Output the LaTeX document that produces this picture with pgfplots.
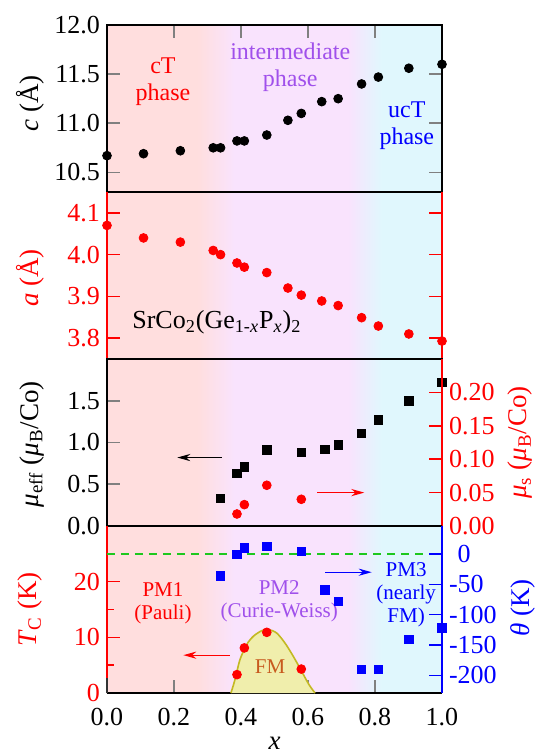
\documentclass[border=0pt]{standalone}
\usepackage{fontspec}
\setmainfont{Liberation Serif}
\usepackage{pgfplots}
\pgfplotsset{compat=1.18}
\usetikzlibrary{arrows.meta}

\definecolor{bgA}{RGB}{255,222,222}
\definecolor{bgB}{RGB}{249,227,253}
\definecolor{bgC}{RGB}{224,247,253}
\definecolor{violetT}{RGB}{160,80,235}
\definecolor{fmText}{RGB}{200,90,30}
\definecolor{domeFill}{RGB}{240,238,172}
\definecolor{domeLine}{RGB}{195,185,35}
\definecolor{dashG}{RGB}{30,200,30}

\pgfdeclarehorizontalshading{phase}{100bp}{color(0bp)=(bgA); color(38.5bp)=(bgA); color(44bp)=(bgB); color(61bp)=(bgB); color(66bp)=(bgC); color(100bp)=(bgC)}

\tikzset{
  ann/.style={font=\fontsize{12}{13.5}\selectfont, align=center},
  annS/.style={font=\fontsize{10.5}{11.5}\selectfont, align=center},
  arr/.style={-{Stealth[length=6.5pt,width=3.6pt]}, line width=0.6pt},
}

\pgfplotsset{
  panel/.style={
    width=167.5pt, height=83.5pt, scale only axis,
    xmin=0, xmax=1, clip=false, anchor=north west,
    axis background/.style={shade, shading=phase},
    axis line style={line width=0.9pt},
    tick style={line width=0.8pt},
    major tick length=6.3pt, minor tick length=3.5pt,
    tick align=inside,
    tick label style={font=\fontsize{13}{15}\selectfont},
    label style={font=\fontsize{13.5}{15}\selectfont},
  },
  twin/.style={
    width=167.5pt, height=83.5pt, scale only axis,
    xmin=0, xmax=1, clip=false, anchor=north west,
    axis x line=none, axis y line*=right,
    axis line style={line width=0.9pt},
    tick style={line width=0.8pt},
    major tick length=6.3pt, minor tick length=3.5pt,
    tick align=inside,
    tick label style={font=\fontsize{13}{15}\selectfont},
    label style={font=\fontsize{13.5}{15}\selectfont},
  },
}

\begin{document}
\begin{tikzpicture}
\useasboundingbox (0,0) rectangle (268.5pt,-378pt);

% ---------- Panel 1: c ----------
\begin{axis}[panel, at={(53.5pt,-12.5pt)},
  ymin=10.3, ymax=12.0,
  ytick={10.5,11.0,11.5,12.0}, yticklabels={10.5,11.0,11.5,12.0},
  xtick={0.2,0.4,0.6,0.8}, xticklabels={}, xtick pos=right,
  ylabel={\textit{c} (Å)},
  ylabel style={at={(axis description cs:-0.23,0.53)}, anchor=center},
]
\addplot[only marks, mark=*, mark size=2.2pt, black] coordinates {
(0,10.67) (0.109,10.69) (0.219,10.72) (0.317,10.75) (0.339,10.75)
(0.388,10.82) (0.41,10.82) (0.477,10.88) (0.54,11.03) (0.58,11.10)
(0.641,11.22) (0.69,11.25) (0.76,11.40) (0.81,11.47) (0.901,11.56) (1.0,11.60)};
\node[ann, text=red] at (axis cs:0.167,11.425) {cT\\phase};
\node[ann, text=violetT] at (axis cs:0.547,11.57) {intermediate\\phase};
\node[ann, text=blue] at (axis cs:0.895,10.97) {ucT\\phase};
\end{axis}

% ---------- Panel 2: a ----------
\begin{axis}[panel, at={(53.5pt,-96pt)},
  ymin=3.75, ymax=4.15,
  ytick={3.8,3.9,4.0,4.1}, yticklabels={3.8,3.9,4.0,4.1},
  xtick=\empty,
  separate axis lines,
  y axis line style={red},
  y tick style={red},
  yticklabel style={red},
  ylabel={\textit{a} (Å)},
  ylabel style={red, at={(axis description cs:-0.23,0.485)}, anchor=center},
]
\addplot[only marks, mark=*, mark size=2.2pt, red] coordinates {
(0,4.07) (0.109,4.04) (0.219,4.03) (0.317,4.01) (0.339,4.00)
(0.388,3.98) (0.41,3.97) (0.477,3.957) (0.54,3.92) (0.58,3.903)
(0.641,3.889) (0.69,3.878) (0.76,3.849) (0.81,3.829) (0.901,3.81) (1.0,3.793)};
\node[font=\fontsize{13}{15}\selectfont] at (axis cs:0.328,3.838)
  {SrCo\textsubscript{2}(Ge\textsubscript{1-\textit{x}}P\textsubscript{\textit{x}})\textsubscript{2}};
\end{axis}

% ---------- Panel 3: mu_eff (left) ----------
\begin{axis}[panel, at={(53.5pt,-179.5pt)},
  ymin=0, ymax=2.0,
  ytick={0,0.5,1.0,1.5}, yticklabels={0.0,0.5,1.0,1.5},
  ytick pos=left,
  xtick=\empty,
  ylabel={\textit{μ}\textsubscript{eff} (\textit{μ}\textsubscript{B}/Co)},
  ylabel style={at={(axis description cs:-0.225,0.49)}, anchor=center},
]
\addplot[only marks, mark=square*, mark size=2.1pt, black] coordinates {
(0.339,0.33) (0.388,0.63) (0.41,0.71) (0.477,0.91) (0.58,0.88)
(0.65,0.92) (0.69,0.97) (0.76,1.11) (0.81,1.27) (0.901,1.50) (1.0,1.72)};
\draw[arr, black] (axis cs:0.343,0.82) -- (axis cs:0.21,0.82);
\draw[arr, red] (axis cs:0.628,0.40) -- (axis cs:0.768,0.40);
\end{axis}

% ---------- Panel 3: mu_s (right) ----------
\begin{axis}[twin, at={(53.5pt,-179.5pt)},
  ymin=0, ymax=0.25,
  ytick={0,0.05,0.10,0.15,0.20}, yticklabels={0.00,0.05,0.10,0.15,0.20},
  y axis line style={red},
  y tick style={red},
  yticklabel style={red},
  ylabel={\textit{μ}\textsubscript{s} (\textit{μ}\textsubscript{B}/Co)},
  ylabel style={red, at={(axis description cs:1.233,0.5)}, anchor=center},
]
\addplot[only marks, mark=*, mark size=2.2pt, red] coordinates {
(0.388,0.018) (0.41,0.032) (0.477,0.061) (0.58,0.040)};
\end{axis}

% ---------- Panel 4: Tc (left) ----------
\begin{axis}[panel, at={(53.5pt,-263pt)},
  ymin=0, ymax=30,
  ytick={0,10,20}, yticklabels={0,10,20},
  minor ytick={5,15,25},
  ytick pos=left,
  xtick={0,0.2,0.4,0.6,0.8,1.0}, xticklabels={0.0,0.2,0.4,0.6,0.8,1.0},
  xtick pos=left,
  xticklabel style={inner ysep=0.5pt, yshift=-7pt},
  separate axis lines,
  y axis line style={red},
  y tick style={red},
  yticklabel style={red, inner ysep=0.5pt},
  ylabel={\textit{T}\textsubscript{C} (K)},
  ylabel style={red, at={(axis description cs:-0.23,0.5)}, anchor=center},
  xlabel={\textit{x}},
  xlabel style={at={(axis description cs:0.5,-0.3)}, anchor=center},
]
\addplot[fill=domeFill, draw=domeLine, line width=0.8pt, smooth] coordinates {
(0.370,0) (0.382,2.4) (0.397,6.0) (0.417,8.7) (0.437,10.2) (0.462,11.2)
(0.481,11.4) (0.506,10.8) (0.531,9.0) (0.556,6.6) (0.581,3.9) (0.603,1.5) (0.621,0)};
\addplot[dashG, line width=0.9pt, dash pattern=on 4pt off 3pt] coordinates {(0,25) (1,25)};
\addplot[only marks, mark=*, mark size=2.2pt, red] coordinates {
(0.388,3.3) (0.41,8.1) (0.477,10.9) (0.58,4.3)};
\node[annS, text=red] at (axis cs:0.167,16.2) {PM1\\(Pauli)};
\node[annS, text=violetT] at (axis cs:0.514,16.5) {PM2\\(Curie-Weiss)};
\node[annS, text=blue] at (axis cs:0.893,17.7) {PM3\\(nearly\\FM)};
\node[annS, text=fmText] at (axis cs:0.487,4.8) {FM};
\draw[arr, red] (axis cs:0.367,6.8) -- (axis cs:0.228,6.8);
\draw[arr, blue] (axis cs:0.651,21.7) -- (axis cs:0.79,21.7);
\draw[black!80, line width=0.9pt] (rel axis cs:0,0) -- (rel axis cs:0,0.09);
\end{axis}

% ---------- Panel 4: theta (right) ----------
\begin{axis}[twin, at={(53.5pt,-263pt)},
  ymin=-229, ymax=46,
  ytick={-200,-150,-100,-50,0}, yticklabels={-200,-150,-100,-50,\phantom{-}0},
  y axis line style={blue},
  y tick style={blue},
  yticklabel style={blue},
  ylabel={\textit{θ} (K)},
  ylabel style={blue, at={(axis description cs:1.242,0.51)}, anchor=center},
]
\addplot[only marks, mark=square*, mark size=2.1pt, blue] coordinates {
(0.339,-36) (0.388,-1) (0.41,10) (0.477,12.5) (0.58,4) (0.65,-59)
(0.69,-78) (0.76,-190) (0.81,-190) (0.901,-141) (1.0,-122)};
\end{axis}

\end{tikzpicture}
\end{document}
